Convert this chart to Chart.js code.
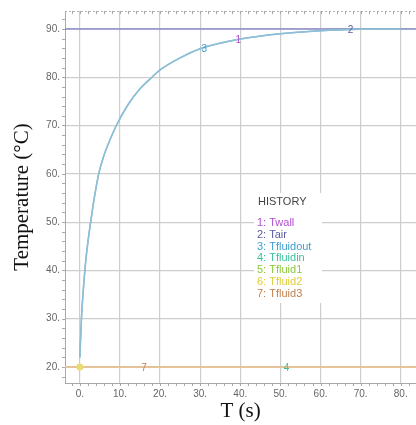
<!DOCTYPE html>
<html><head><meta charset="utf-8">
<script src="https://cdn.jsdelivr.net/npm/chart.js@4.4.1/dist/chart.umd.min.js"></script>
<style>html,body{margin:0;padding:0;background:#fff;}#wrap{width:416px;height:425px;}</style>
</head><body><div id="wrap"><canvas id="c" width="416" height="425"></canvas></div>
<script>
// ---- data ----
const timeS      = [0, 0.4, 1.25, 2, 2.7, 3.6, 4.7, 6, 7.5, 9.1, 12, 15, 18, 20, 25, 30, 40, 50, 60, 70, 80];
const tFluidOut  = [22, 30, 40, 45.8, 50, 55, 60, 63.8, 67, 70, 74.3, 77.6, 80, 81.5, 84, 85.9, 87.9, 89, 89.6, 89.9, 90];
const tWall      = [22, 30, 40, 45.8, 50, 55, 60, 63.8, 67, 70, 74.3, 77.6, 80, 81.5, 84, 85.9, 87.9, 89, 89.6, 89.9, 90];
const flatTimeS  = [-4, 84];
const tAir       = [90, 90];
const tFluidIn   = [20, 20];
const tFluid1    = [20, 20];
const tFluid2    = [20, 20];
const tFluid3    = [20, 20];
const seriesNames = ['Twall', 'Tair', 'Tfluidout', 'Tfluidin', 'Tfluid1', 'Tfluid2', 'Tfluid3'];
const seriesColors = ['#b050d0', '#5a5aa8', '#3d9ed0', '#3cbf9c', '#8cc83c', '#e0cc3a', '#c08050'];
const lineColors = ['#8fb4cc', '#8c8cc8', '#8cc0d8', '#a8d8c8', '#b8d890', '#e8d890', '#e8bc9c'];
const xTickValues = [0, 10, 20, 30, 40, 50, 60, 70, 80];
const yTickValues = [20, 30, 40, 50, 60, 70, 80, 90];
const curveMarks = [ // [series index, label, t, value]
  [2, '3', 31, 86.0], [0, '1', 39.5, 87.8], [1, '2', 67.5, 90], [6, '7', 16, 20], [3, '4', 51.5, 20]
];
const xMin = -3.7, xMax = 83.8, yMin = 16.7, yMax = 93.7;

function pts(xs, ys) { return xs.map((x, i) => ({x: x, y: ys[i]})); }

const seriesData = [
  pts(timeS, tWall), pts(flatTimeS, tAir), pts(timeS, tFluidOut),
  pts(flatTimeS, tFluidIn), pts(flatTimeS, tFluid1), pts(flatTimeS, tFluid2), pts(flatTimeS, tFluid3)
];
// first entry is drawn on top
const order = [2, 0, 1, 6, 5, 4, 3];
const datasets = order.map(i => ({
  label: seriesNames[i], data: seriesData[i], borderColor: lineColors[i],
  borderWidth: 1.5, pointRadius: 0, cubicInterpolationMode: 'monotone', fill: false
}));

const decor = {
  id: 'decor',
  beforeDatasetsDraw(chart) {
    const {ctx, chartArea: a, scales: {x, y}} = chart;
    ctx.save();
    ctx.strokeStyle = '#b4b4b4'; ctx.lineWidth = 1;
    ctx.setLineDash([2, 2]);
    ctx.beginPath(); ctx.moveTo(a.left, a.top + 0.5); ctx.lineTo(a.right, a.top + 0.5); ctx.stroke();
    ctx.setLineDash([]);
    ctx.strokeStyle = '#a8a8a8';
    for (let v = -2; v <= 84; v += 2) {
      const px = Math.round(x.getPixelForValue(v)) + 0.5;
      if (px < a.left || px > a.right) continue;
      ctx.beginPath(); ctx.moveTo(px, a.bottom); ctx.lineTo(px, a.bottom + 3); ctx.stroke();
      ctx.beginPath(); ctx.moveTo(px, a.top); ctx.lineTo(px, a.top + 3); ctx.stroke();
    }
    for (let v = 18; v <= 92; v += 2) {
      const py = Math.round(y.getPixelForValue(v)) + 0.5;
      ctx.beginPath(); ctx.moveTo(a.left - 3, py); ctx.lineTo(a.left, py); ctx.stroke();
    }
    ctx.restore();
  },
  afterDraw(chart) {
    const {ctx, chartArea: a, scales: {x, y}} = chart;
    ctx.save();
    ctx.fillStyle = '#e8dc70';
    ctx.beginPath(); ctx.arc(x.getPixelForValue(0), y.getPixelForValue(20), 3.5, 0, Math.PI * 2); ctx.fill();
    ctx.font = '10px "Liberation Sans", Arial, sans-serif';
    ctx.textAlign = 'center'; ctx.textBaseline = 'middle';
    curveMarks.forEach(m => {
      ctx.fillStyle = seriesColors[m[0]];
      ctx.fillText(m[1], x.getPixelForValue(m[2]), y.getPixelForValue(m[3]) + 1);
    });
    const lx = 254, ly = 193;
    ctx.fillStyle = '#ffffff';
    ctx.fillRect(lx, ly, 68, 110);
    ctx.textAlign = 'left';
    ctx.fillStyle = '#444';
    ctx.font = '11px "Liberation Sans", Arial, sans-serif';
    ctx.fillText('HISTORY', lx + 4, ly + 9);
    ctx.font = '11px "Liberation Sans", Arial, sans-serif';
    seriesNames.forEach((n, i) => {
      ctx.fillStyle = seriesColors[i];
      ctx.fillText((i + 1) + ': ' + n, lx + 3, ly + 30 + i * 11.8);
    });
    ctx.fillStyle = '#111';
    ctx.font = '21px "Liberation Serif", "Times New Roman", serif';
    ctx.textAlign = 'center';
    ctx.fillText('T (s)', (a.left + a.right) / 2, 411);
    ctx.translate(22, (a.top + a.bottom) / 2);
    ctx.rotate(-Math.PI / 2);
    ctx.fillText('Temperature (°C)', 0, 0);
    ctx.restore();
  }
};

new Chart(document.getElementById('c'), {
  type: 'line',
  data: {datasets: datasets},
  plugins: [decor],
  options: {
    responsive: false, animation: false, devicePixelRatio: 1,
    layout: {padding: {top: 10, right: 0, left: 0, bottom: 0}},
    plugins: {legend: {display: false}, tooltip: {enabled: false}},
    scales: {
      x: {
        type: 'linear', min: xMin, max: xMax,
        afterBuildTicks: s => { s.ticks = xTickValues.map(v => ({value: v})); },
        afterFit: s => { s.height = 42; },
        grid: {color: '#cdcdcd', lineWidth: 1.2, drawTicks: false},
        border: {color: '#a8a8a8', width: 1},
        ticks: {padding: 5, color: '#666', font: {size: 10, family: '"Liberation Sans", Arial, sans-serif'},
                maxRotation: 0, callback: v => v + '.'}
      },
      y: {
        type: 'linear', min: yMin, max: yMax,
        afterBuildTicks: s => { s.ticks = yTickValues.map(v => ({value: v})); },
        afterFit: s => { s.width = 65; },
        grid: {color: '#cdcdcd', lineWidth: 1.2, drawTicks: false},
        border: {color: '#a8a8a8', width: 1},
        ticks: {padding: 5, color: '#666', font: {size: 10, family: '"Liberation Sans", Arial, sans-serif'},
                callback: v => v + '.'}
      }
    }
  }
});
</script></body></html>
